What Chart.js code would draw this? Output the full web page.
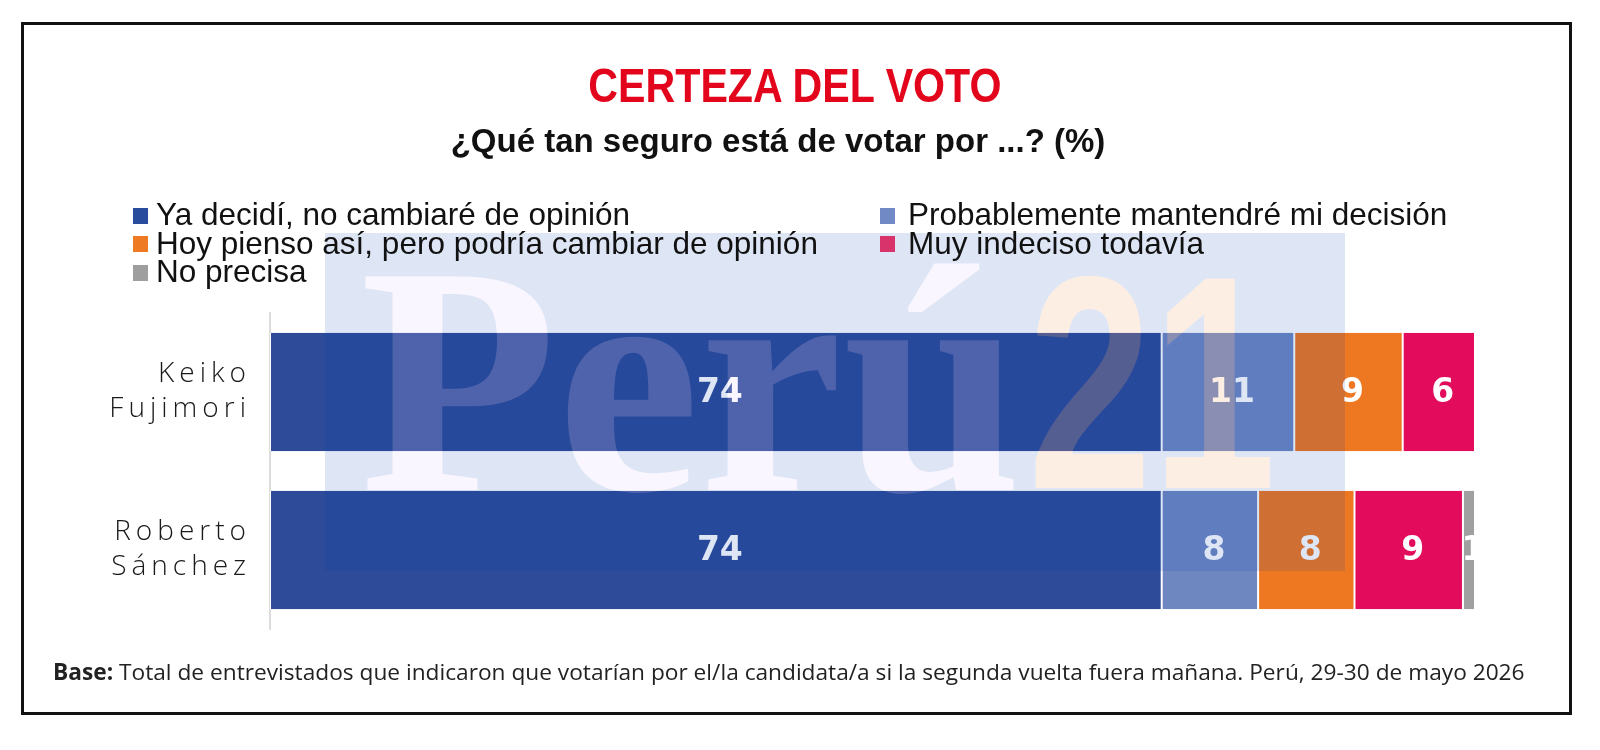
<!DOCTYPE html>
<html>
<head>
<meta charset="utf-8">
<script src="https://cdn.jsdelivr.net/npm/chart.js@4.4.1/dist/chart.umd.min.js"></script>
<style>
    html, body { margin: 0; padding: 0; background: #fff; }
    #wrap { position: relative; width: 1600px; height: 750px; overflow: hidden; }
    #frame { position: absolute; left: 21px; top: 22px; width: 1551px; height: 693px; box-sizing: border-box; border: 3px solid #111; }
    #chart { position: absolute; left: 0; top: 0; }
    .txt { position: absolute; white-space: nowrap; z-index: 2; }
    #title { left: 0; width: 1590px; top: 57px; text-align: center; }
    #title span { display: inline-block; font: bold 49px "Liberation Sans", Arial, sans-serif; color: #e3051b; transform: scaleX(0.84); }
    #subtitle { left: 0; width: 1556px; top: 122px; text-align: center; font: bold 33px "Liberation Sans", Arial, sans-serif; color: #111; }
    #legend { left: 133px; top: 200px; display: grid; grid-template-columns: 747px auto; font: 31.5px "Liberation Sans", Arial, sans-serif; color: #111; line-height: 28.5px; }
    #legend .item { display: flex; align-items: center; }
    #legend .box { width: 15px; height: 16px; margin-right: 8px; margin-top: 3px; }
    #legend .item:nth-child(even) .box { margin-right: 13px; }
    #foot { left: 53px; top: 656px; font: 22.7px "Open Sans", sans-serif; color: #222; }
</style>
</head>
<body>
<div id="wrap">
    <div id="frame"></div>
    <canvas id="chart" width="1600" height="750"></canvas>
    <div class="txt" id="title"><span>CERTEZA DEL VOTO</span></div>
    <div class="txt" id="subtitle">¿Qué tan seguro está de votar por ...? (%)</div>
    <div class="txt" id="legend"></div>
    <div class="txt" id="foot"><b>Base:</b> Total de entrevistados que indicaron que votarían por el/la candidata/a si la segunda vuelta fuera mañana. Perú, 29-30 de mayo 2026</div>
</div>
<script>
const candidates = [['Keiko', 'Fujimori'], ['Roberto', 'Sánchez']];
const seriesNames = [
    'Ya decidí, no cambiaré de opinión',
    'Probablemente mantendré mi decisión',
    'Hoy pienso así, pero podría cambiar de opinión',
    'Muy indeciso todavía',
    'No precisa'
];
const yaDecidi = [74, 74];
const probablemente = [11, 8];
const hoyPienso = [9, 8];
const muyIndeciso = [6, 9];
const noPrecisa = [0, 1];
const seriesColors = ['#2d4b98', '#6f87c1', '#ee7722', '#e30b5b', '#a0a0a0'];
const legendColors = ['#2a4c9c', '#7189c4', '#ef7a24', '#d9336b', '#9e9e9e'];

const seriesValues = [yaDecidi, probablemente, hoyPienso, muyIndeciso, noPrecisa];

// legend (two columns like the original)
const legendBox = document.getElementById('legend');
seriesNames.forEach((name, i) => {
    const item = document.createElement('div');
    item.className = 'item';
    item.innerHTML = '<span class="box" style="background:' + legendColors[i] + '"></span><span>' + name + '</span>';
    legendBox.appendChild(item);
});

// white value labels in the middle of each segment
const valueLabels = {
    id: 'valueLabels',
    beforeDraw(chart) {
        chart.ctx.letterSpacing = '5px';
    },
    beforeDatasetsDraw(chart) {
        chart.ctx.letterSpacing = '0px';
    },
    afterDatasetsDraw(chart) {
        const ctx = chart.ctx;
        ctx.save();
        ctx.fillStyle = '#fff';
        ctx.font = 'bold 33px "DejaVu Sans", sans-serif';
        ctx.textAlign = 'center';
        ctx.textBaseline = 'middle';
        chart.data.datasets.forEach((ds, i) => {
            chart.getDatasetMeta(i).data.forEach((bar, j) => {
                const v = ds.data[j];
                if (!v) return;
                const p = bar.getProps(['x', 'y', 'base'], true);
                ctx.fillText(v, (p.x + p.base) / 2 + 4, p.y + 1);
            });
        });
        ctx.restore();
    }
};

// Perú21 watermark laid over the plot
function fitText(ctx, text, font, left, right, baseline) {
    ctx.font = font;
    const w = ctx.measureText(text).width;
    ctx.save();
    ctx.translate(left, baseline);
    ctx.scale((right - left) / w, 1);
    ctx.fillText(text, 0, 0);
    ctx.restore();
}
const watermark = {
    id: 'watermark',
    afterDraw(chart) {
        const ctx = chart.ctx;
        const off = document.createElement('canvas');
        off.width = chart.width;
        off.height = chart.height;
        const o = off.getContext('2d');
        o.fillStyle = 'rgba(0, 60, 180, 0.13)';
        o.fillRect(325, 233, 1020, 338);
        o.globalCompositeOperation = 'destination-out';
        o.fillStyle = '#000';
        fitText(o, 'Perú', 'bold 326px "Liberation Serif", serif', 360, 1022, 490);
        fitText(o, '21', 'bold 304px "Liberation Sans", sans-serif', 1028, 1276, 488);

        ctx.save();
        ctx.drawImage(off, 0, 0);
        ctx.fillStyle = 'rgba(225, 205, 255, 0.19)';
        fitText(ctx, 'Perú', 'bold 326px "Liberation Serif", serif', 360, 1022, 490);
        ctx.fillStyle = 'rgba(246, 170, 118, 0.2)';
        fitText(ctx, '21', 'bold 304px "Liberation Sans", sans-serif', 1028, 1276, 488);
        ctx.restore();
    }
};

const ctx = document.getElementById('chart');
new Chart(ctx, {
    type: 'bar',
    data: {
        labels: candidates,
        datasets: seriesNames.map((name, i) => ({
            label: name,
            data: seriesValues[i],
            backgroundColor: seriesColors[i],
            borderColor: '#ffffff',
            borderWidth: {left: 1, right: 1, top: 0, bottom: 0},
            borderSkipped: false,
            barPercentage: 0.75,
            categoryPercentage: 1
        }))
    },
    options: {
        indexAxis: 'y',
        responsive: false,
        animation: false,
        layout: {
            padding: {top: 313, bottom: 121, left: 0, right: 125}
        },
        scales: {
            x: {
                stacked: true,
                display: false,
                min: 0,
                max: 100
            },
            y: {
                stacked: true,
                afterFit: (scale) => { scale.width = 270; },
                grid: {
                    display: false,
                    drawTicks: false
                },
                border: {
                    display: true,
                    color: '#dcdcdc',
                    width: 2
                },
                ticks: {
                    color: '#1a1a1a',
                    padding: 19,
                    font: {family: '"Open Sans", sans-serif', size: 28, weight: 300, lineHeight: 1.25}
                }
            }
        },
        plugins: {
            legend: {display: false},
            tooltip: {enabled: false}
        }
    },
    plugins: [valueLabels, watermark]
});
</script>
</body>
</html>
